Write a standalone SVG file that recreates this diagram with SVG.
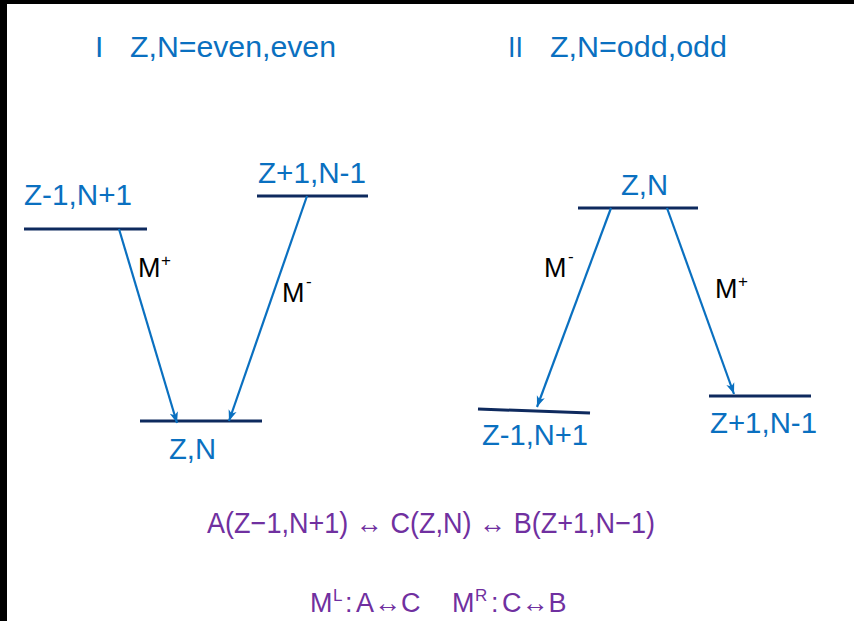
<svg xmlns="http://www.w3.org/2000/svg" width="854" height="621" viewBox="0 0 854 621">
<style>
.bg{fill:#fff}
.blk{fill:#000}
.lvl{stroke:#0E2A5E;stroke-width:3;fill:none}
.lbl{font-family:"Liberation Sans",Arial,sans-serif;font-size:30px;fill:#0A70C0}
.ttl{font-family:"Liberation Sans",Arial,sans-serif;font-size:30px;fill:#0A70C0}
.arr{stroke:#0A70C0;stroke-width:2.2;fill:none;marker-end:url(#ah)}
.m{font-family:"Liberation Sans",Arial,sans-serif;font-size:27px;fill:#000}
.sup{font-size:17px}
.eq{font-family:"Liberation Sans","DejaVu Sans",Arial,sans-serif;font-size:29px;fill:#7030A0}
.eq2{font-family:"Liberation Sans","DejaVu Sans",Arial,sans-serif;font-size:27px;fill:#7030A0}
</style>
<defs>
<marker id="ah" markerUnits="userSpaceOnUse" markerWidth="12" markerHeight="10" viewBox="0 0 12 10" refX="11" refY="5" orient="auto">
<path d="M0,0.8 L11,5 L0,9.2 L3,5 z" fill="#0A70C0"/>
</marker>
</defs>
<rect class="bg" x="0" y="0" width="854" height="621"/>
<rect class="blk" x="0" y="0" width="854" height="4"/>
<rect class="blk" x="0" y="0" width="7" height="621"/>

<g id="titles">
<text class="ttl" x="95" y="57">I</text>
<text class="ttl" x="130" y="57" textLength="206" lengthAdjust="spacingAndGlyphs">Z,N=even,even</text>
<text class="ttl" x="508" y="57" textLength="15" lengthAdjust="spacingAndGlyphs">II</text>
<text class="ttl" x="550" y="57" textLength="177" lengthAdjust="spacingAndGlyphs">Z,N=odd,odd</text>
</g>

<g id="nodeL_A">
<line class="lvl" x1="24" y1="229" x2="147" y2="229"/>
<text class="lbl" x="24" y="205" textLength="108" lengthAdjust="spacingAndGlyphs">Z-1,N+1</text>
</g>
<g id="nodeL_B">
<line class="lvl" x1="257" y1="196" x2="368" y2="196"/>
<text class="lbl" x="258" y="183" textLength="108" lengthAdjust="spacingAndGlyphs">Z+1,N-1</text>
</g>
<g id="nodeL_C">
<line class="lvl" x1="140" y1="421" x2="262" y2="421"/>
<text class="lbl" x="169" y="459" textLength="47" lengthAdjust="spacingAndGlyphs">Z,N</text>
</g>

<g id="nodeR_C">
<line class="lvl" x1="578" y1="208" x2="698" y2="208"/>
<text class="lbl" x="621" y="195" textLength="47" lengthAdjust="spacingAndGlyphs">Z,N</text>
</g>
<g id="nodeR_A">
<line class="lvl" x1="478" y1="409" x2="590" y2="413"/>
<text class="lbl" x="482" y="445" textLength="106" lengthAdjust="spacingAndGlyphs">Z-1,N+1</text>
</g>
<g id="nodeR_B">
<line class="lvl" x1="709" y1="396" x2="811" y2="396"/>
<text class="lbl" x="710" y="433" textLength="107" lengthAdjust="spacingAndGlyphs">Z+1,N-1</text>
</g>

<g id="connectors">
<line class="arr" x1="119" y1="229" x2="177" y2="423"/>
<line class="arr" x1="307" y1="196" x2="229" y2="421"/>
<line class="arr" x1="611" y1="208" x2="537" y2="407"/>
<line class="arr" x1="667" y1="208" x2="734" y2="394"/>
<text class="m" x="138" y="277">M<tspan class="sup" x="161" y="266">+</tspan></text>
<text class="m" x="282" y="302">M<tspan class="sup" x="306" y="287">-</tspan></text>
<text class="m" x="544" y="277">M<tspan class="sup" x="568" y="262">-</tspan></text>
<text class="m" x="715" y="298">M<tspan class="sup" x="738" y="287">+</tspan></text>
</g>

<g id="equations">
<text class="eq" x="207" y="533" textLength="448" lengthAdjust="spacingAndGlyphs">A(Z−1,N+1) ↔ C(Z,N) ↔ B(Z+1,N−1)</text>
<text class="eq2" x="310" y="612">M<tspan class="sup" x="333" y="601">L</tspan><tspan x="345" y="612">:</tspan><tspan x="356" y="612">A↔C</tspan></text>
<text class="eq2" x="452" y="612">M<tspan class="sup" x="475" y="601">R</tspan><tspan x="491" y="612">:</tspan><tspan x="502" y="612">C↔B</tspan></text>
</g>
</svg>
